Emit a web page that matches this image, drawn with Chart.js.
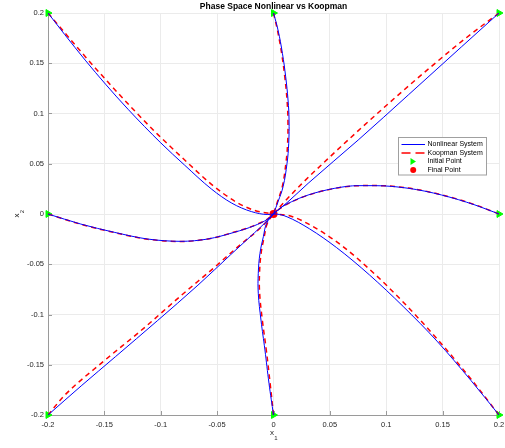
<!DOCTYPE html>
<html>
<head>
<meta charset="utf-8">
<script src="https://cdn.jsdelivr.net/npm/chart.js@4.4.1/dist/chart.umd.min.js"></script>
<style>
  html, body { margin: 0; padding: 0; background: #fff; }
</style>
</head>
<body>
<canvas id="chartCanvas" width="505" height="448"></canvas>
<script>
// axis ticks
const tickValues = [-0.2, -0.15, -0.1, -0.05, 0, 0.05, 0.1, 0.15, 0.2];

// trajectories, [x1, x2]
const nonlinear1 = [[-0.2, 0.2], [-0.185, 0.1783], [-0.167, 0.1531], [-0.149, 0.1292], [-0.129, 0.1042], [-0.1, 0.0708], [-0.079, 0.0488], [-0.055, 0.0248], [-0.037, 0.0108], [-0.0196, 0.0024], [-0.005, -0.0005], [0, 0]];
const koopman1 = [[-0.2, 0.2], [-0.19, 0.1868], [-0.17, 0.1605], [-0.147, 0.1315], [-0.126, 0.106], [-0.1025, 0.079], [-0.079, 0.054], [-0.055, 0.0295], [-0.034, 0.0125], [-0.0166, 0.0035], [0, 0]];

const nonlinear2 = [[0, 0.2], [0.004, 0.1831], [0.0079, 0.1599], [0.0108, 0.1366], [0.0129, 0.1134], [0.0138, 0.0935], [0.0135, 0.0703], [0.012, 0.0504], [0.0085, 0.0272], [0.004, 0.0122], [0, 0]];
const koopman2 = [[0, 0.2], [0.0035, 0.183], [0.0072, 0.16], [0.01, 0.1366], [0.012, 0.1134], [0.0128, 0.0935], [0.0125, 0.0703], [0.011, 0.0504], [0.0078, 0.0272], [0.0035, 0.0122], [0, 0]];

const nonlinear3 = [[0.2, 0.2], [0.1669, 0.1665], [0.1195, 0.1184], [0.0751, 0.0736], [0.0307, 0.0305], [0.0129, 0.0122], [0, 0]];
const koopman3 = [[0.2, 0.2], [0.17, 0.1745], [0.14, 0.1468], [0.11, 0.1178], [0.08, 0.0878], [0.05, 0.0568], [0.025, 0.03], [0.01, 0.0125], [0, 0]];

const nonlinear4 = [[-0.2, 0], [-0.1709, -0.01], [-0.1413, -0.0182], [-0.1117, -0.0249], [-0.0821, -0.0272], [-0.0584, -0.0249], [-0.0347, -0.0182], [-0.0169, -0.0116], [-0.0051, -0.005], [0, 0]];
const koopman4 = [[-0.2, 0], [-0.1709, -0.0102], [-0.1413, -0.0184], [-0.1117, -0.0251], [-0.0821, -0.0273], [-0.0584, -0.0249], [-0.0347, -0.018], [-0.0169, -0.0113], [-0.0051, -0.0048], [0, 0]];

const nonlinear5 = [[0.2, 0], [0.1787, 0.009], [0.1491, 0.0189], [0.1195, 0.0256], [0.0899, 0.0282], [0.0751, 0.0282], [0.0544, 0.0256], [0.0307, 0.0189], [0.016, 0.0122], [0.0056, 0.0056], [0, 0]];
const koopman5 = [[0.2, 0], [0.1787, 0.0092], [0.1491, 0.0191], [0.1195, 0.0258], [0.0899, 0.0283], [0.0751, 0.0282], [0.0544, 0.0255], [0.0307, 0.0187], [0.016, 0.012], [0.0056, 0.0054], [0, 0]];

const nonlinear6 = [[-0.2, -0.2], [-0.17, -0.1705], [-0.14, -0.1418], [-0.103, -0.1062], [-0.067, -0.0708], [-0.038, -0.0405], [-0.017, -0.0188], [-0.0066, -0.0078], [0, 0]];
const koopman6 = [[-0.2, -0.2], [-0.1856, -0.1808], [-0.1501, -0.146], [-0.1176, -0.1161], [-0.0821, -0.0813], [-0.0524, -0.0531], [-0.0288, -0.0299], [-0.011, -0.0133], [0, 0]];

const nonlinear7 = [[0, -0.2], [-0.004, -0.1685], [-0.0076, -0.1353], [-0.0111, -0.1055], [-0.0135, -0.0789], [-0.0135, -0.059], [-0.012, -0.0391], [-0.009, -0.0226], [-0.0061, -0.0093], [0, 0]];
const koopman7 = [[0, -0.2], [-0.003, -0.1685], [-0.0064, -0.1353], [-0.0099, -0.1055], [-0.0123, -0.0789], [-0.0124, -0.059], [-0.011, -0.0391], [-0.0082, -0.0226], [-0.0055, -0.0093], [0, 0]];

const nonlinear8 = [[0.2, -0.2], [0.175, -0.1655], [0.145, -0.1265], [0.115, -0.092], [0.085, -0.0605], [0.056, -0.0335], [0.032, -0.0148], [0.012, -0.0028], [0.003, -0.0001], [0, 0]];
const koopman8 = [[0.2, -0.2], [0.18, -0.171], [0.15, -0.1305], [0.12, -0.0935], [0.09, -0.06], [0.06, -0.031], [0.035, -0.0125], [0.015, -0.002], [0, 0]];

const initialPoints = [[-0.2, 0.2], [0, 0.2], [0.2, 0.2], [-0.2, 0], [0.2, 0], [-0.2, -0.2], [0, -0.2], [0.2, -0.2]];
const finalPoints = [[0, 0]];

const nonlinearRuns = [nonlinear1, nonlinear2, nonlinear3, nonlinear4, nonlinear5, nonlinear6, nonlinear7, nonlinear8];
const koopmanRuns = [koopman1, koopman2, koopman3, koopman4, koopman5, koopman6, koopman7, koopman8];
// runs 2 and 7 head mostly vertically, so they can't use x-monotone smoothing
const verticalRuns = [1, 6];

const FONT = '"Liberation Sans", Arial, Helvetica, sans-serif';

function toXY(arr) {
  return arr.map(p => ({ x: p[0], y: p[1] }));
}

function smoothing(i) {
  return verticalRuns.includes(i) ? { tension: 0.4 } : { cubicInterpolationMode: 'monotone' };
}

const datasets = [];
nonlinearRuns.forEach((run, i) => {
  datasets.push(Object.assign({
    data: toXY(run),
    showLine: true,
    borderColor: '#0000ff',
    borderWidth: 1,
    pointRadius: 0,
    fill: false
  }, smoothing(i)));
});
koopmanRuns.forEach((run, i) => {
  datasets.push(Object.assign({
    data: toXY(run),
    showLine: true,
    borderColor: '#ff0000',
    borderWidth: 1.5,
    borderDash: [5, 4],
    pointRadius: 0,
    fill: false
  }, smoothing(i)));
});
datasets.push({
  data: toXY(initialPoints),
  pointStyle: 'triangle',
  rotation: 90,
  pointRadius: 4,
  backgroundColor: '#00ff00',
  borderColor: '#00ff00',
  borderWidth: 1,
  clip: false
});
datasets.push({
  data: toXY(finalPoints),
  pointStyle: 'circle',
  pointRadius: 4,
  backgroundColor: '#ff0000',
  borderColor: '#ff0000',
  borderWidth: 0,
  clip: false
});

// inner tick marks on the two drawn axes
const innerTicks = {
  id: 'innerTicks',
  beforeDatasetsDraw(chart) {
    const ctx = chart.ctx;
    const a = chart.chartArea;
    ctx.save();
    ctx.strokeStyle = '#9a9a9a';
    ctx.lineWidth = 1;
    ctx.beginPath();
    tickValues.forEach(v => {
      const px = Math.round(chart.scales.x.getPixelForValue(v)) + 0.5;
      ctx.moveTo(px, a.bottom);
      ctx.lineTo(px, a.bottom - 4);
      const py = Math.round(chart.scales.y.getPixelForValue(v)) + 0.5;
      ctx.moveTo(a.left, py);
      ctx.lineTo(a.left + 4, py);
    });
    ctx.stroke();
    ctx.restore();
  }
};

// title, axis labels and the boxed legend (MATLAB style)
const overlay = {
  id: 'overlay',
  afterDraw(chart) {
    const ctx = chart.ctx;
    ctx.save();
    ctx.fillStyle = '#000';
    ctx.textBaseline = 'middle';

    ctx.font = 'bold 8.5px ' + FONT;
    ctx.textAlign = 'center';
    ctx.fillText('Phase Space Nonlinear vs Koopman', 273.5, 6.5);

    // x1
    ctx.fillStyle = '#262626';
    ctx.font = '8px ' + FONT;
    ctx.fillText('x', 272, 433);
    ctx.font = '6px ' + FONT;
    ctx.fillText('1', 275.8, 438.5);

    // x2
    ctx.save();
    ctx.translate(17, 215.5);
    ctx.rotate(-Math.PI / 2);
    ctx.font = '8px ' + FONT;
    ctx.fillText('x', 0, 0);
    ctx.font = '6px ' + FONT;
    ctx.fillText('2', 3.8, 5.5);
    ctx.restore();

    // legend box
    const bx = 398.5, by = 137.5, bw = 88, bh = 37.5;
    ctx.fillStyle = '#fff';
    ctx.fillRect(bx, by, bw, bh);
    ctx.strokeStyle = '#a0a0a0';
    ctx.lineWidth = 1;
    ctx.strokeRect(bx, by, bw, bh);

    const rows = [144.5, 153, 161.5, 170];
    const labels = ['Nonlinear System', 'Koopman System', 'Initial Point', 'Final Point'];

    ctx.strokeStyle = '#0000ff';
    ctx.lineWidth = 1;
    ctx.beginPath();
    ctx.moveTo(401.5, rows[0]);
    ctx.lineTo(425, rows[0]);
    ctx.stroke();

    ctx.strokeStyle = '#ff0000';
    ctx.lineWidth = 1.6;
    ctx.setLineDash([9, 5]);
    ctx.beginPath();
    ctx.moveTo(401.5, rows[1]);
    ctx.lineTo(425, rows[1]);
    ctx.stroke();
    ctx.setLineDash([]);

    ctx.fillStyle = '#00ff00';
    ctx.beginPath();
    ctx.moveTo(416, rows[2]);
    ctx.lineTo(410.5, rows[2] - 3.5);
    ctx.lineTo(410.5, rows[2] + 3.5);
    ctx.closePath();
    ctx.fill();

    ctx.fillStyle = '#ff0000';
    ctx.beginPath();
    ctx.arc(413.2, rows[3], 3, 0, Math.PI * 2);
    ctx.fill();

    ctx.fillStyle = '#000';
    ctx.font = '7px ' + FONT;
    ctx.textAlign = 'left';
    labels.forEach((t, i) => ctx.fillText(t, 427.5, rows[i]));

    ctx.restore();
  }
};

function fmtTick(v) {
  return String(+v.toFixed(2));
}

const ctx = document.getElementById('chartCanvas').getContext('2d');
const chart = new Chart(ctx, {
  type: 'scatter',
  data: { datasets: datasets },
  options: {
    responsive: false,
    animation: false,
    layout: { padding: { top: 13, right: 6, left: 0, bottom: 0 } },
    plugins: {
      legend: { display: false },
      tooltip: { enabled: false }
    },
    scales: {
      x: {
        type: 'linear',
        min: -0.2,
        max: 0.2,
        afterBuildTicks: s => { s.ticks = tickValues.map(v => ({ value: v })); },
        afterFit: s => { s.height = 33; s.paddingLeft = 0; s.paddingRight = 0; },
        ticks: {
          callback: fmtTick,
          font: { size: 7.5, family: FONT },
          color: '#262626',
          padding: 5,
          maxRotation: 0,
          autoSkip: false
        },
        grid: { color: '#ebebeb', drawTicks: false },
        border: { color: '#9a9a9a' }
      },
      y: {
        type: 'linear',
        min: -0.2,
        max: 0.2,
        afterBuildTicks: s => { s.ticks = tickValues.map(v => ({ value: v })); },
        afterFit: s => { s.width = 48; s.paddingTop = 0; s.paddingBottom = 0; },
        ticks: {
          callback: fmtTick,
          font: { size: 7.5, family: FONT },
          color: '#262626',
          padding: 4,
          autoSkip: false
        },
        grid: { color: '#ebebeb', drawTicks: false },
        border: { color: '#9a9a9a' }
      }
    }
  },
  plugins: [innerTicks, overlay]
});
</script>
</body>
</html>
